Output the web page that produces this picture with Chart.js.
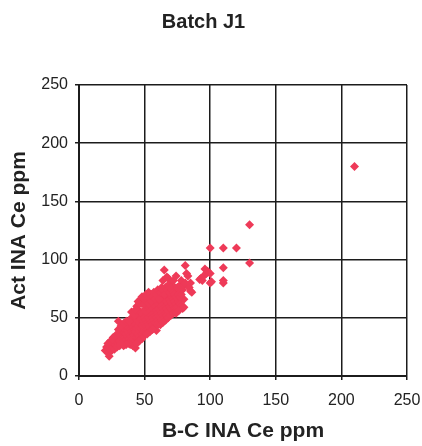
<!DOCTYPE html>
<html>
<head>
<meta charset="utf-8">
<script src="https://cdn.jsdelivr.net/npm/chart.js@4.4.1/dist/chart.umd.min.js"></script>
<style>
  body { margin: 0; background: #fff; }
</style>
</head>
<body>
<canvas id="grafica" width="422" height="446"></canvas>
<script>
// Datos (B-C INA Ce vs Act INA Ce, ppm)
const bcCe = [
  20,21,22,23,23,24,25,25,26,26,27,27,28,28,29,29,30,30,30,30,
  31,31,32,32,33,33,33,34,34,35,35,35,36,36,36,37,37,37,38,38,38,39,39,39,40,40,40,40,40,
  41,41,41,41,42,42,42,43,43,43,43,44,44,44,44,45,45,45,45,45,46,46,46,46,47,47,47,47,48,48,48,48,49,49,49,50,50,50,50,50,
  51,51,51,52,52,52,52,53,53,53,54,54,54,55,55,55,55,55,56,56,56,57,57,57,57,58,58,58,59,59,59,60,60,60,60,60,
  61,61,61,62,62,62,63,63,63,63,64,64,64,64,65,65,65,65,66,66,66,67,67,67,67,68,68,68,68,69,69,69,70,70,70,70,
  71,71,71,72,72,72,73,73,73,74,74,74,75,75,75,76,77,77,78,78,79,79,80,80,80,
  81,82,81,83,84,85,86,85,92,93,94,95,96,97,98,100,100,101,
  100,110,120,110,110,110,130,130,210,
  44,46,48,50,50,51,52,53,53,54,55,56,57,58,59,60,61,62,63,64,
  65,66,67,68,69,70,71,72,73,74,75,76,77,78,66,68,70,72,74,76,
  62,64,56,54,52,48,46,44,38,36,34,32,28,30,32,34,36,38,42,40,43,26,24,22
];
const actCe = [
  22,25,20,17,24,27,22,30,25,28,23,32,27,30,25,34,47,28,31,36,
  26,30,33,38,28,35,41,30,37,27,33,40,31,36,43,29,34,39,32,37,42,27,35,40,30,34,38,44,50,
  26,32,37,42,35,40,46,24,30,38,44,33,41,48,60,31,36,43,52,64,34,39,46,56,32,41,49,66,36,44,53,62,38,42,47,35,40,45,50,57,
  37,43,48,40,46,54,61,38,44,50,42,48,56,40,46,52,60,70,44,50,58,42,48,54,64,46,52,60,39,50,56,44,48,54,62,68,
  46,52,58,50,56,64,48,54,60,70,52,58,66,82,50,56,62,91,54,60,68,52,58,64,85,56,62,70,84,55,60,66,58,64,72,80,
  57,62,68,60,66,82,58,64,76,62,58,86,60,66,72,64,62,78,60,82,58,74,59,66,78,
  95,88,80,86,76,80,72,73,83,84,82,86,92,88,90,88,80,81,
  110,110,110,93,82,80,130,97,180,
  56,62,68,62,66,70,66,62,72,66,64,68,72,66,70,74,66,72,76,74,
  70,76,74,78,72,76,74,72,70,68,76,70,68,70,48,50,52,54,54,56,
  44,46,40,38,36,32,30,28,28,27,26,28,35,40,43,45,47,47,52,55,57,33,30,28
];
const marcasEje = [0, 50, 100, 150, 200, 250];

const puntos = bcCe.map((x, i) => ({ x: x, y: actCe[i] }));
const colorPunto = 'rgb(238,58,88)';
const colorRejilla = '#1c1c1c';
const fuente = "'Liberation Sans', Arial, Helvetica, sans-serif";

new Chart(document.getElementById('grafica'), {
  type: 'scatter',
  data: {
    datasets: [{
      label: 'Batch J1',
      data: puntos,
      pointStyle: 'rectRot',
      pointRadius: 4.5,
      pointBackgroundColor: colorPunto,
      pointBorderColor: colorPunto,
      pointBorderWidth: 0
    }]
  },
  options: {
    responsive: false,
    animation: false,
    layout: { padding: { left: 0, right: 15, top: 0, bottom: 0 } },
    plugins: {
      legend: { display: false },
      tooltip: { enabled: false },
      title: {
        display: true,
        text: 'Batch J1',
        color: '#222',
        font: { family: fuente, size: 20, weight: 'bold' },
        padding: { top: 10, bottom: 51 }
      }
    },
    scales: {
      x: {
        type: 'linear',
        min: 0,
        max: 250,
        afterBuildTicks: s => { s.ticks = marcasEje.map(v => ({ value: v })); },
        afterFit: s => { s.height = 70; s.paddingLeft = 0; s.paddingRight = 0; },
        grid: { color: colorRejilla, lineWidth: 1.5, tickLength: 4 },
        border: { color: colorRejilla, width: 2 },
        ticks: { color: '#222', padding: 11, maxRotation: 0, font: { family: fuente, size: 16 } },
        title: {
          display: true,
          text: 'B-C INA Ce ppm',
          color: '#222',
          font: { family: fuente, size: 21, weight: 'bold' },
          padding: { top: 0, bottom: 2 }
        }
      },
      y: {
        type: 'linear',
        min: 0,
        max: 250,
        afterBuildTicks: s => { s.ticks = marcasEje.map(v => ({ value: v })); },
        afterFit: s => { s.width = 79; },
        grid: { color: colorRejilla, lineWidth: 1.5, tickLength: 4 },
        border: { color: colorRejilla, width: 2 },
        ticks: { color: '#222', padding: 7, font: { family: fuente, size: 16 } },
        title: {
          display: true,
          text: 'Act INA Ce ppm',
          color: '#222',
          font: { family: fuente, size: 21, weight: 'bold' },
          padding: { top: 7, bottom: 0 }
        }
      }
    }
  }
});
</script>
</body>
</html>
